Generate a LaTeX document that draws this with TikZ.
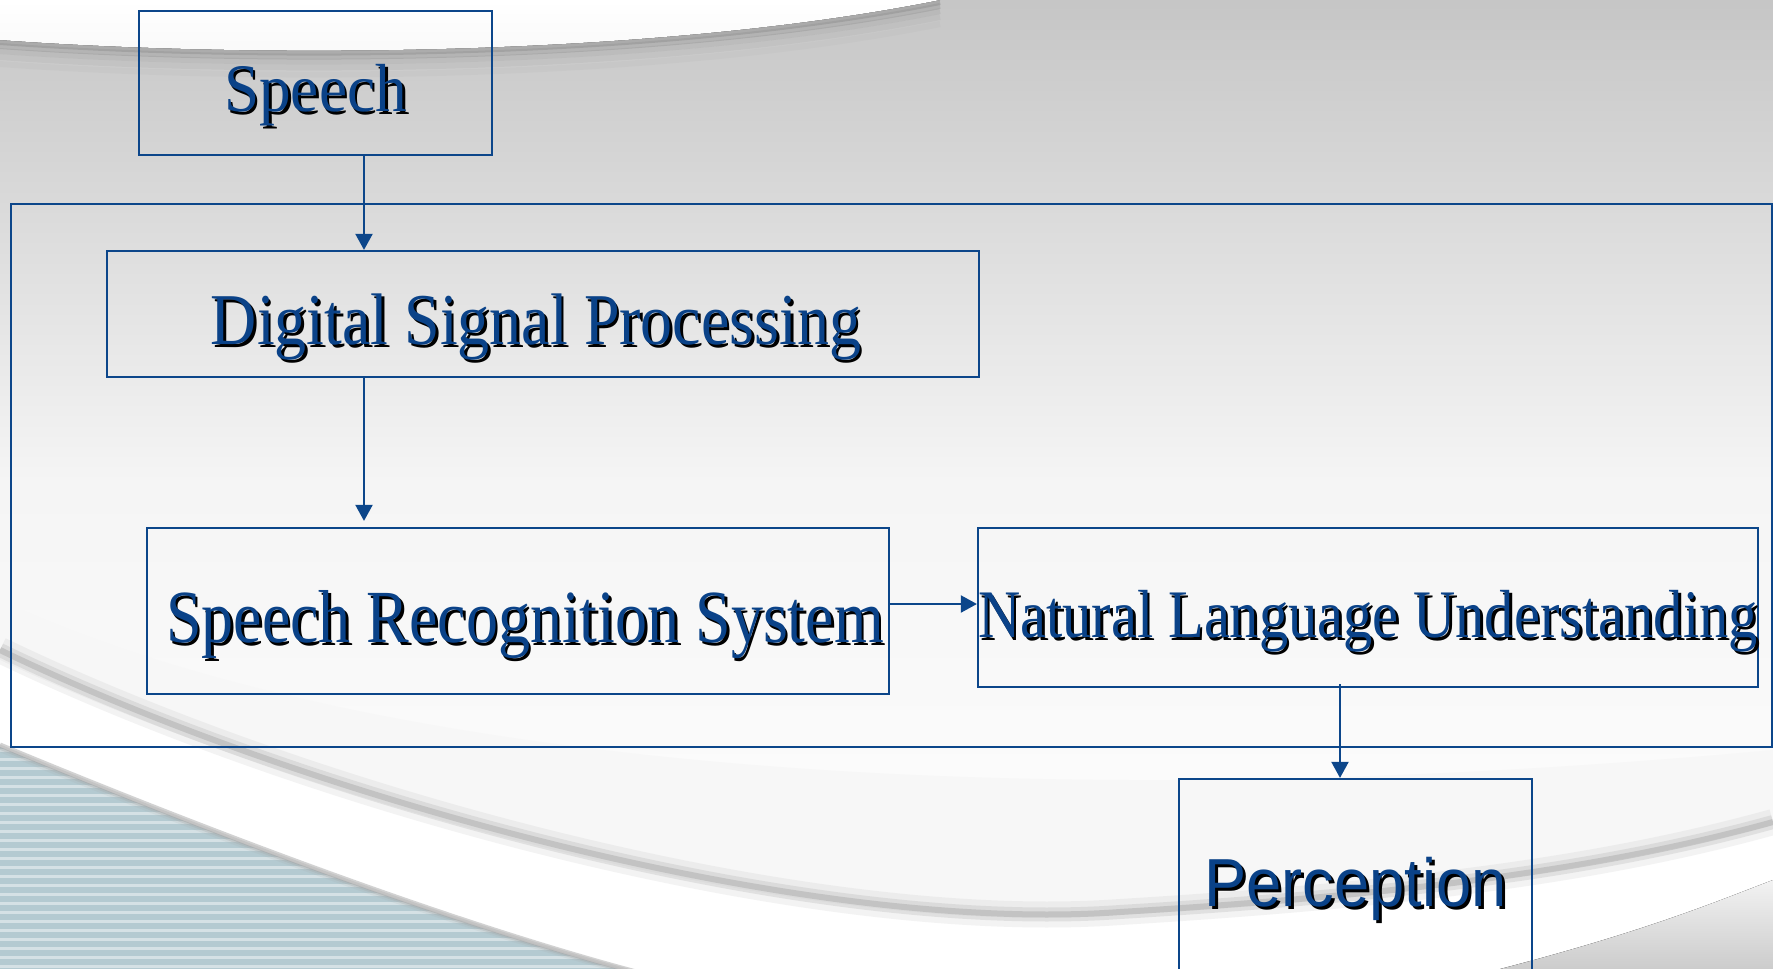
\documentclass[tikz,border=0pt]{standalone}
\usepackage{fontspec}
\setmainfont{Liberation Serif}
\newfontfamily\percfont{Liberation Sans}
\usepackage{tikz}
\usetikzlibrary{arrows.meta,positioning,calc}

\definecolor{linkblue}{RGB}{12,70,138}
\definecolor{inkblue}{RGB}{10,66,136}
\definecolor{stripeblue}{RGB}{180,202,209}

% blue text with a black drop shadow: #1 squeeze, #2 drop, #3 text
\newcommand{\shadowed}[3]{%
  \raisebox{-#2}[\height][\depth]{\scalebox{#1}[1]{%
    \rlap{\hspace{3pt}\raisebox{-3pt}{\color{black}#3}}\color{inkblue}#3}}}

\begin{document}
\begin{tikzpicture}[
  x=1pt,y=-1pt,
  box/.style={draw=linkblue,line width=2.2pt,inner sep=0pt},
  flow/.style={draw=linkblue,line width=2pt,-{Triangle[length=16pt,width=17pt]}}]
  \useasboundingbox (0,0) rectangle (1773,969);
  \clip (0,0) rectangle (1773,969);
  % slide background
  \fill[top color=gray!45,bottom color=gray!8] (0,0) rectangle (1773,480);
  \fill[top color=gray!8,bottom color=white] (0,480) rectangle (1773,969);
  \foreach \d/\o in {2/0.55,6/0.4,11/0.25,17/0.14,24/0.07}
    \draw[gray!85,line width=6pt,opacity=\o,shift={(0,\d)}] (0,40) .. controls (250,58) and (650,58) .. (940,0);
  \fill[top color=white,bottom color=gray!5] (0,0) -- (0,40) .. controls (250,58) and (650,58) .. (940,0) -- cycle;
  % folds at the bottom
  \foreach \w/\o in {30/0.08,16/0.14}
    \draw[gray!70,line width=\w pt,opacity=\o] (0,655) .. controls (150,700) and (300,740) .. (500,780);
  \fill[gray!6] (0,600) .. controls (300,740) and (900,830) .. (1773,750) -- (1773,969) -- (0,969) -- cycle;
  \fill[white] (0,660) .. controls (300,800) and (800,940) .. (1120,915) .. controls (1400,900) and (1600,870) .. (1773,825) -- (1773,969) -- (0,969) -- cycle;
  \foreach \w/\o in {26/0.12,14/0.22,6/0.4}
    \draw[gray!75,line width=\w pt,opacity=\o] (0,650) .. controls (300,795) and (800,935) .. (1120,912) .. controls (1400,895) and (1600,870) .. (1773,822);
  \fill[top color=gray!10,bottom color=gray!40] (1500,969) .. controls (1650,930) and (1720,900) .. (1773,880) -- (1773,969) -- cycle;
  \fill[stripeblue] (0,747) .. controls (200,830) and (450,925) .. (640,975) -- (0,975) -- cycle;
  \begin{scope}
    \clip (0,747) .. controls (200,830) and (450,925) .. (640,975) -- (0,975) -- cycle;
    \foreach \yy in {750,759,...,975}
      \draw[white,opacity=0.45,line width=3pt] (0,\yy) -- (700,\yy);
  \end{scope}
  \foreach \d/\o in {0/0.5,-5/0.3,-11/0.15}
    \draw[gray!70,line width=5pt,opacity=\o,shift={(\d,0)}] (0,745) .. controls (200,828) and (450,923) .. (640,973);
  % diagram
  \node[box,minimum width=1761pt,minimum height=543pt] (outer) at (891.5,475.5) {};
  \node[box,minimum width=353pt,minimum height=144pt] (speech) at (315.5,83)
    {\fontsize{68}{70}\selectfont\shadowed{0.93}{14pt}{Speech}};
  \node[box,minimum width=872pt,minimum height=126pt] (dsp) at (543,314)
    {\fontsize{73}{75}\selectfont\kern-14pt\shadowed{0.876}{15pt}{Digital Signal Processing}};
  \node[box,minimum width=742pt,minimum height=166pt] (srs) at (518,611)
    {\fontsize{75}{77}\selectfont\kern14pt\shadowed{0.853}{15pt}{Speech Recognition System}};
  \node[box,minimum width=780pt,minimum height=159pt] (nlu) at (1368,607.5)
    {\fontsize{68}{70}\selectfont\shadowed{0.86}{15pt}{Natural Language Understanding}};
  \node[box,minimum width=353pt,minimum height=206pt] (perc) at (1355.5,882)
    {\percfont\fontsize{68}{70}\selectfont\shadowed{0.93}{8pt}{Perception}};
  \coordinate (vx) at (364,0);
  \coordinate (px) at (1340,0);
  \coordinate (hy) at (0,604);
  \draw[flow] (speech.south -| vx) -- (dsp.north -| vx);
  \draw[flow,shorten >=6pt] (dsp.south -| vx) -- (srs.north -| vx);
  \draw[flow] (srs.east |- hy) -- (nlu.west |- hy);
  \draw[flow,shorten <=-4pt] (nlu.south -| px) -- (perc.north -| px);
\end{tikzpicture}
\end{document}
